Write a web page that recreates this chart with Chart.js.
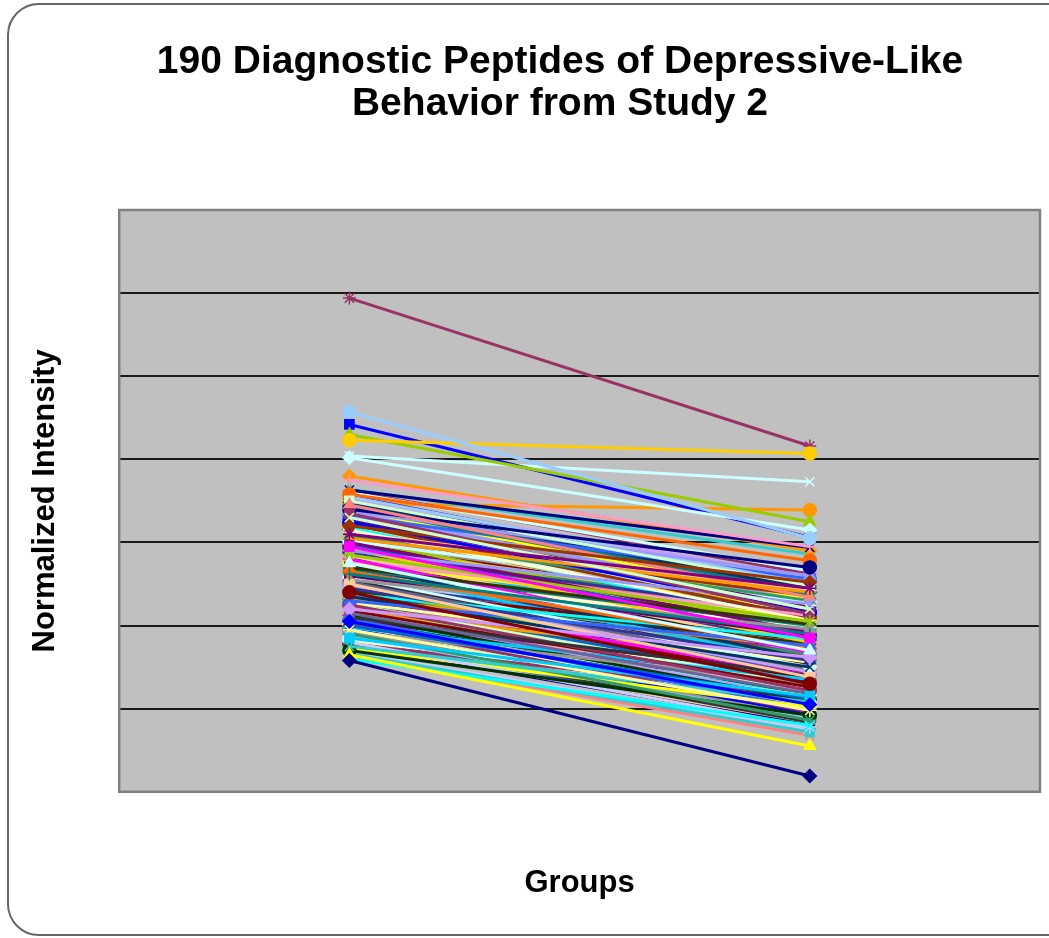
<!DOCTYPE html>
<html>
<head>
<meta charset="utf-8">
<script src="https://cdn.jsdelivr.net/npm/chart.js@4/dist/chart.umd.min.js"></script>
<style>
  html, body { margin: 0; padding: 0; background: #fff; overflow: hidden; }
  #wrap { position: relative; width: 1049px; height: 938px; }
  #frame {
    position: absolute; left: 7px; top: 3px; width: 1100px; height: 933px;
    border: 2px solid #666; border-radius: 32px; box-sizing: border-box; pointer-events: none;
  }
</style>
</head>
<body>
<div id="wrap">
  <canvas id="peptideChart" width="1049" height="938"></canvas>
  <div id="frame"></div>
</div>
<script>
const titleLines = ['190 Diagnostic Peptides of Depressive-Like', 'Behavior from Study 2'];
const groups = ['Group 1', 'Group 2'];
const yTicks = [0, 1, 2, 3, 4, 5, 6, 7];

// normalized intensity of each peptide in the first group
const group1 = [
  1.58, 2.95, 1.65, 1.60, 3.10, 2.40, 2.62, 2.05, 1.85, 2.75,
  3.30, 1.95, 4.57, 3.75, 2.20, 2.50, 2.30, 1.75, 2.85, 4.23,
  3.05, 2.65, 2.15, 2.55, 2.35, 1.90, 1.70, 2.70, 3.20, 3.35,
  2.45, 2.10, 2.90, 2.25, 3.15, 4.02, 2.60, 3.45, 2.00, 1.80,
  3.40, 2.80, 1.72, 2.38, 3.00, 2.18, 2.68, 3.25, 1.98, 2.58,
  3.50, 2.28, 1.88, 2.78, 2.48, 3.12, 2.08, 1.66, 4.30, 2.92,
  2.33, 3.58, 2.52, 1.93, 2.72, 3.08, 2.12, 2.42, 3.22, 1.78,
  2.88, 2.55, 3.38, 2.02, 2.62, 1.84, 3.28, 2.22, 2.98, 1.68,
  3.63, 2.36, 2.76, 3.18, 2.06, 2.46, 3.42, 1.96, 2.66, 3.02,
  2.26, 1.82, 3.55, 2.56, 2.14, 2.84, 3.32, 1.74, 2.44, 2.94,
  2.18, 3.14, 2.64, 1.92, 3.48, 2.32, 2.82, 2.04, 3.06, 5.94,
  2.50, 1.86, 3.36, 2.70, 2.24, 3.60, 1.99, 2.86, 2.40, 3.26,
  1.76, 2.60, 3.10, 2.10, 2.96, 2.34, 3.44, 4.42, 2.74, 4.04,
  1.90, 3.20, 2.52, 2.16, 3.52, 2.80, 1.70, 2.44, 3.04, 2.28,
  3.80, 2.66, 1.94, 3.34, 2.38, 2.90, 2.08, 3.16, 1.80, 2.58,
  3.46, 2.20, 2.76, 3.62, 2.00, 2.48, 3.00, 1.64, 2.30, 3.24,
  2.72, 2.12, 3.40, 1.88, 2.54, 2.98, 2.26, 3.56, 1.72, 2.64,
  3.12, 2.04, 2.36, 2.88, 3.30, 1.84, 2.46, 3.64, 2.16, 2.82,
  3.47, 2.34, 1.96, 3.08, 2.68, 2.22, 3.52, 1.78, 2.42, 2.94
];

// normalized intensity of the same peptides in the second group
const group2 = [
  0.19, 1.85, 0.55, 0.80, 2.45, 1.30, 1.90, 1.05, 1.15, 1.70,
  2.20, 0.98, 3.05, 2.95, 1.62, 1.38, 1.76, 1.08, 2.05, 4.07,
  2.40, 1.72, 1.18, 1.96, 1.50, 0.86, 0.92, 2.02, 2.52, 2.14,
  1.58, 1.40, 2.26, 1.22, 2.06, 3.15, 1.88, 2.34, 1.12, 0.78,
  2.70, 1.68, 1.02, 1.84, 1.92, 1.26, 2.00, 2.16, 1.35, 1.50,
  2.48, 1.56, 0.88, 2.12, 1.44, 2.42, 1.00, 0.72, 3.25, 1.80,
  1.74, 2.78, 1.48, 1.30, 1.60, 2.30, 1.10, 1.78, 2.10, 1.14,
  2.14, 1.54, 2.60, 0.96, 1.98, 1.06, 2.22, 1.60, 1.86, 0.74,
  2.94, 1.40, 2.08, 2.00, 1.42, 1.82, 2.36, 0.94, 1.56, 2.28,
  1.28, 1.16, 2.50, 1.90, 1.12, 1.74, 2.56, 1.02, 1.46, 2.20,
  1.54, 2.04, 1.94, 0.90, 2.44, 1.66, 1.72, 1.08, 2.36, 4.16,
  1.86, 0.84, 2.28, 1.64, 1.24, 2.66, 1.34, 2.10, 1.44, 2.18,
  0.80, 1.92, 2.32, 1.14, 1.88, 1.36, 2.40, 3.06, 2.00, 3.73,
  1.24, 2.12, 1.82, 1.20, 2.58, 1.70, 0.98, 1.74, 1.96, 1.62,
  2.90, 1.60, 0.96, 2.26, 1.72, 2.16, 1.16, 2.40, 0.88, 1.52,
  2.42, 1.58, 1.66, 2.62, 1.04, 1.84, 1.94, 0.68, 1.32, 2.16,
  1.98, 1.16, 2.32, 1.20, 1.52, 2.18, 1.62, 2.48, 1.00, 1.58,
  2.06, 1.40, 1.70, 1.78, 2.24, 0.82, 1.48, 2.86, 1.52, 2.04,
  3.39, 1.60, 1.00, 2.02, 1.66, 1.26, 2.46, 1.10, 1.40, 1.82
];

// series colours and markers cycle through these
const palette = [
  '#000080', '#FF00FF', '#FFFF00', '#00FFFF', '#800080', '#800000', '#008080', '#0000FF',
  '#00CCFF', '#CCFFFF', '#CCFFCC', '#FFFF99', '#99CCFF', '#FF99CC', '#CC99FF', '#FFCC99',
  '#3366FF', '#33CCCC', '#99CC00', '#FFCC00', '#FF9900', '#FF6600', '#666699', '#969696',
  '#003366', '#339966', '#003300', '#333300', '#993300', '#993366', '#333399', '#333333',
  '#9999FF', '#993366', '#FFFFCC', '#CCFFFF', '#660066', '#FF8080', '#0066CC', '#CCCCFF'
];
const markers = ['rectRot', 'rect', 'triangle', 'crossRot', 'star', 'circle', 'cross'];

const datasets = group1.map((v, i) => {
  const c = palette[i % palette.length];
  return {
    label: 'Peptide ' + (i + 1),
    data: [v, group2[i]],
    borderColor: c,
    backgroundColor: c,
    borderWidth: 3,
    pointStyle: markers[i % markers.length],
    pointRadius: 6.5,
    pointBorderWidth: 1.5,
    pointBorderColor: c,
    pointBackgroundColor: c
  };
});

const plotDecor = {
  id: 'plotDecor',
  beforeDraw(chart) {
    const { ctx, chartArea: a } = chart;
    ctx.save();
    ctx.fillStyle = '#c0c0c0';
    ctx.fillRect(a.left, a.top, a.width, a.height);
    ctx.restore();
  },
  afterDraw(chart) {
    const { ctx, chartArea: a } = chart;
    ctx.save();
    ctx.strokeStyle = '#808080';
    ctx.lineWidth = 2.5;
    ctx.strokeRect(a.left, a.top, a.width, a.height);
    // chart heading
    ctx.fillStyle = '#000';
    ctx.font = 'bold 39px "Liberation Sans", Arial, sans-serif';
    ctx.textAlign = 'center';
    ctx.textBaseline = 'middle';
    titleLines.forEach((t, k) => ctx.fillText(t, 560, 62 + k * 42));
    ctx.restore();
  }
};

new Chart(document.getElementById('peptideChart'), {
  type: 'line',
  data: { labels: groups, datasets: datasets },
  plugins: [plotDecor],
  options: {
    responsive: false,
    animation: false,
    layout: { padding: { top: 210, right: 9, bottom: 10, left: 12 } },
    plugins: {
      legend: { display: false },
      tooltip: { enabled: false }
    },
    scales: {
      x: {
        offset: true,
        ticks: { display: false },
        grid: { display: false, drawTicks: false },
        border: { display: false },
        title: {
          display: true,
          text: 'Groups',
          color: '#000',
          font: { family: '"Liberation Sans", Arial, sans-serif', size: 31, weight: 'bold' },
          padding: { top: 73, bottom: 26 }
        }
      },
      y: {
        min: yTicks[0],
        max: yTicks[yTicks.length - 1],
        afterBuildTicks: axis => { axis.ticks = yTicks.map(v => ({ value: v })); },
        ticks: { display: false },
        grid: { color: '#1a1a1a', lineWidth: 2, drawTicks: false },
        border: { display: false },
        title: {
          display: true,
          text: 'Normalized Intensity',
          color: '#000',
          font: { family: '"Liberation Sans", Arial, sans-serif', size: 31, weight: 'bold' },
          padding: { top: 15, bottom: 55 }
        }
      }
    }
  }
});
</script>
</body>
</html>
